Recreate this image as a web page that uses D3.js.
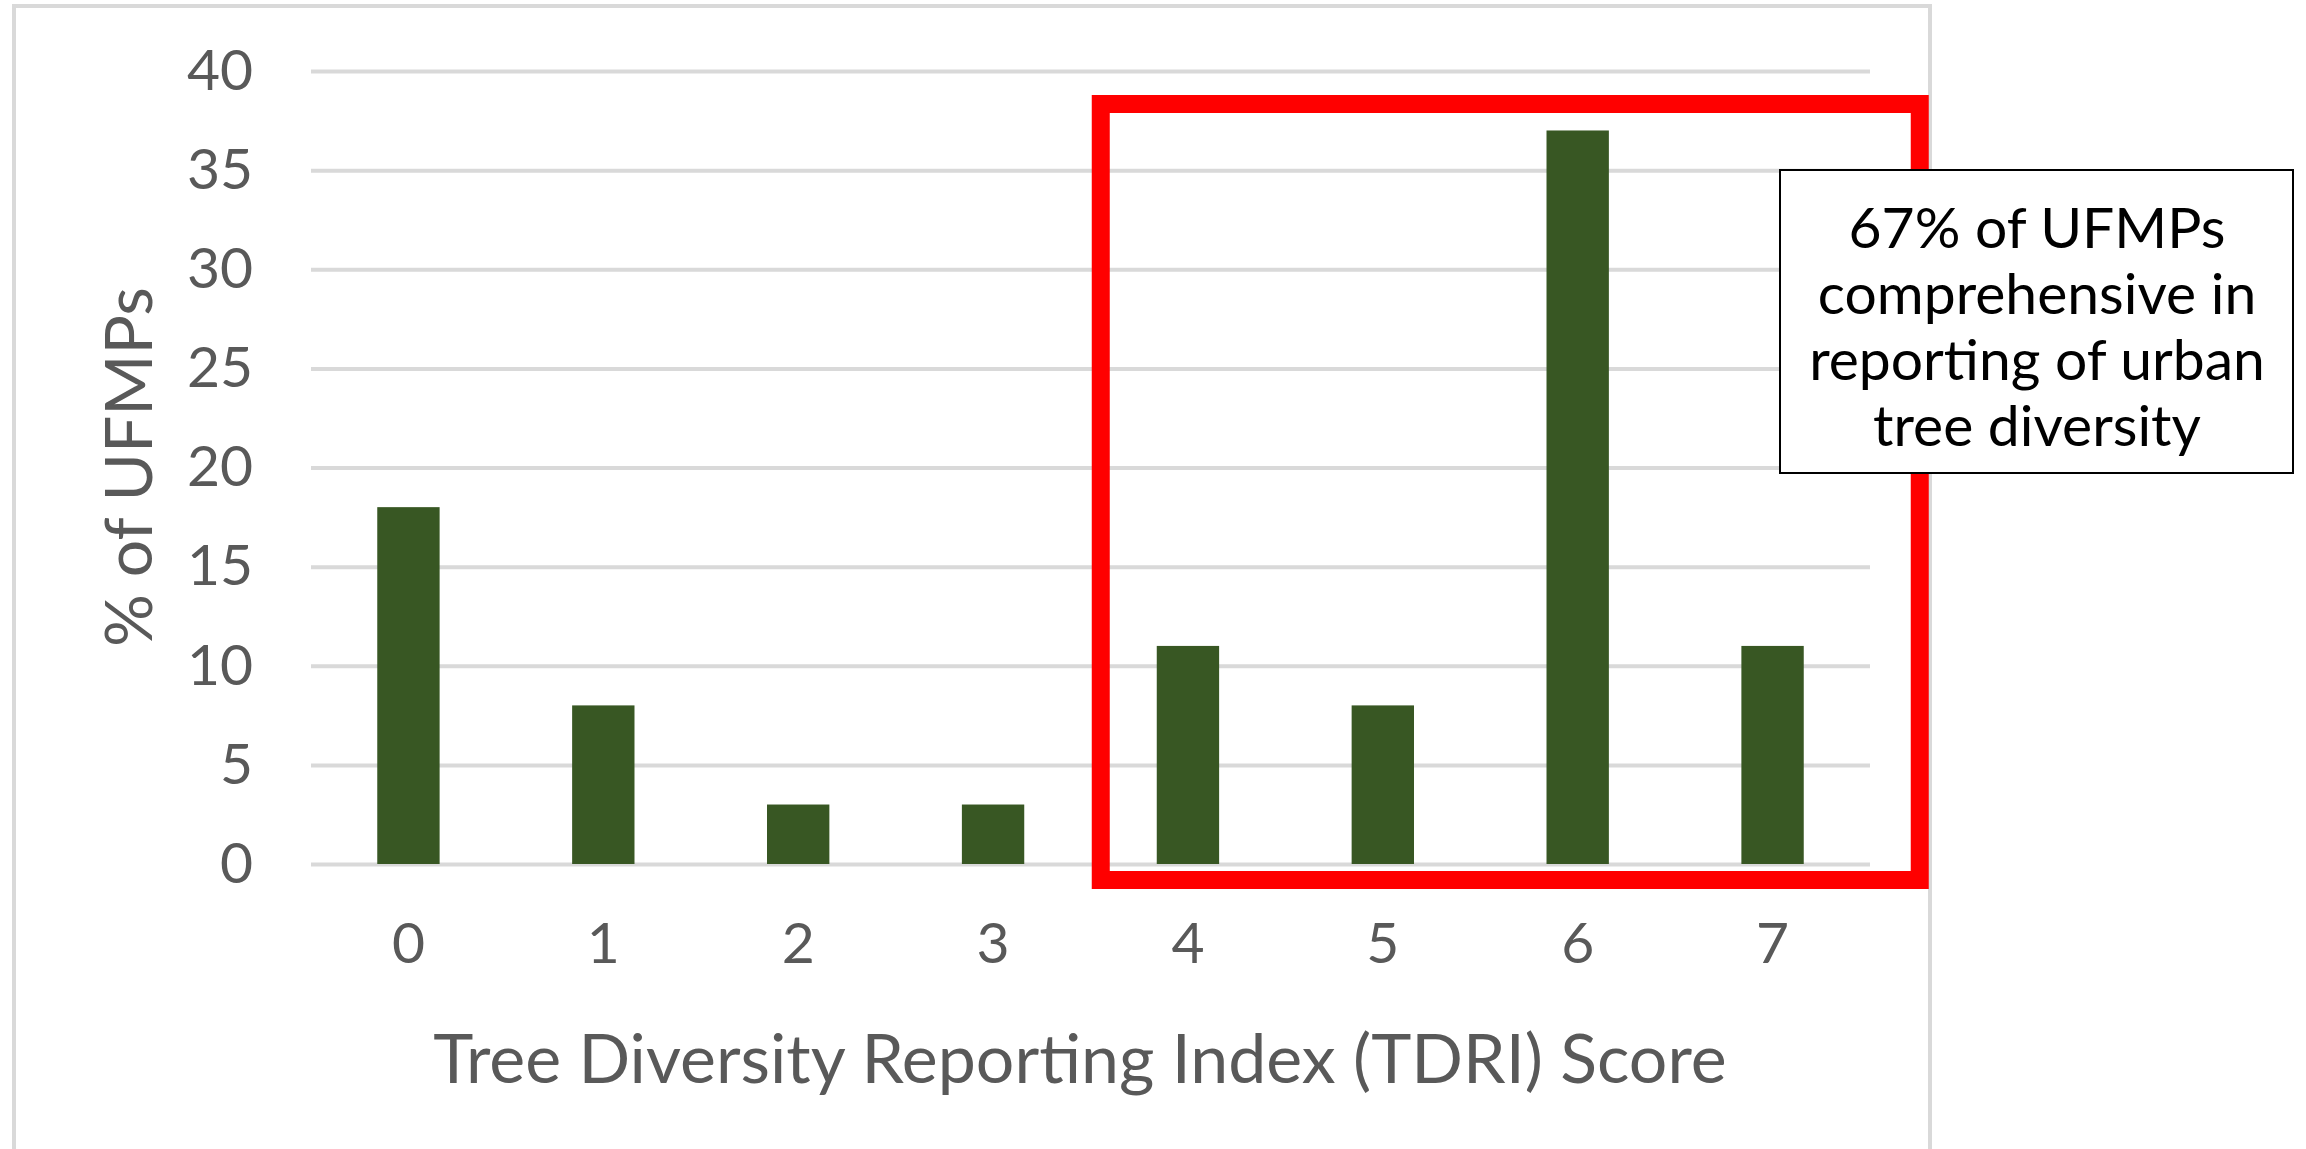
<!DOCTYPE html>
<html>
<head>
    <meta charset="utf-8" />
    <title>TDRI score chart</title>
    <style>
        body {
            margin: 0;
            background-color: white;
        }

        text {
          font-family: Lato, "Open Sans", sans-serif;
        }

        .tick text {
          fill: #595959;
        }

        .grid line {
          stroke: #d9d9d9;
          stroke-width: 4;
        }
    </style>
    <script src="https://cdnjs.cloudflare.com/ajax/libs/d3/7.8.5/d3.min.js"></script>
</head>
<body>
    <script>
        // data
        var scores = ['0', '1', '2', '3', '4', '5', '6', '7'];
        var percents = [18, 8, 3, 3, 11, 8, 37, 11];
        var yTicks = [0, 5, 10, 15, 20, 25, 30, 35, 40];
        var highlighted = ['4', '5', '6', '7'];
        var noteLines = ['67% of UFMPs', 'comprehensive in', 'reporting of urban', 'tree diversity'];

        var width = 2306,
            height = 1149;

        var svg = d3.select("body").append("svg")
                    .attr("width", width)
                    .attr("height", height);

        svg.append("rect")
            .attr("width", width)
            .attr("height", height)
            .attr("fill", "white");

        // chart frame (runs past the bottom of the picture)
        svg.append("rect")
            .attr("x", 14)
            .attr("y", 6)
            .attr("width", 1916)
            .attr("height", 1200)
            .attr("fill", "none")
            .attr("stroke", "#d9d9d9")
            .attr("stroke-width", 4);

        var x = d3.scaleBand()
            .domain(scores)
            .range([311, 1870])
            .paddingInner(0.68)
            .paddingOuter(0.34);

        var y = d3.scaleLinear()
            .domain([0, 40])
            .range([864, 71]);

        // gridlines + y labels
        var yAxis = svg.append("g")
            .attr("class", "grid")
            .attr("transform", "translate(311,0)")
            .call(d3.axisLeft(y)
                .tickValues(yTicks)
                .tickSize(-(1870 - 311))
                .tickPadding(58));
        yAxis.select(".domain").remove();
        yAxis.selectAll("text").style("font-size", "57px");

        // x labels
        var xAxis = svg.append("g")
            .attr("transform", "translate(0,864)")
            .call(d3.axisBottom(x).tickSize(0).tickPadding(59));
        xAxis.select(".domain").remove();
        xAxis.selectAll("text").style("font-size", "57px");

        // bars
        svg.selectAll(".bar")
            .data(percents)
            .enter().append("rect")
            .attr("class", "bar")
            .attr("x", (d, i) => x(scores[i]))
            .attr("width", x.bandwidth())
            .attr("y", d => y(d))
            .attr("height", d => y(0) - y(d))
            .attr("fill", "#385723");

        // axis titles
        svg.append("text")
            .attr("x", 1080)
            .attr("y", 1083)
            .attr("text-anchor", "middle")
            .attr("fill", "#595959")
            .style("font-size", "68px")
            .text("Tree Diversity Reporting Index (TDRI) Score");

        svg.append("text")
            .attr("transform", "translate(152,467) rotate(-90)")
            .attr("text-anchor", "middle")
            .attr("fill", "#595959")
            .style("font-size", "66px")
            .text("% of UFMPs");

        // red highlight round scores 4..7
        var first = x(highlighted[0]),
            last = x(highlighted[highlighted.length - 1]) + x.bandwidth();
        svg.append("rect")
            .attr("x", first - 56)
            .attr("y", 104)
            .attr("width", (last - first) + 56 + 116)
            .attr("height", 880 - 104)
            .attr("fill", "none")
            .attr("stroke", "#ff0000")
            .attr("stroke-width", 18);

        // note box
        svg.append("rect")
            .attr("x", 1780)
            .attr("y", 170)
            .attr("width", 513)
            .attr("height", 303)
            .attr("fill", "white")
            .attr("stroke", "black")
            .attr("stroke-width", 2);

        svg.append("g")
            .selectAll("text")
            .data(noteLines)
            .enter().append("text")
            .attr("x", 2037)
            .attr("y", (d, i) => 248 + i * 66)
            .attr("text-anchor", "middle")
            .attr("fill", "black")
            .style("font-size", "57px")
            .text(d => d);
    </script>
</body>
</html>
